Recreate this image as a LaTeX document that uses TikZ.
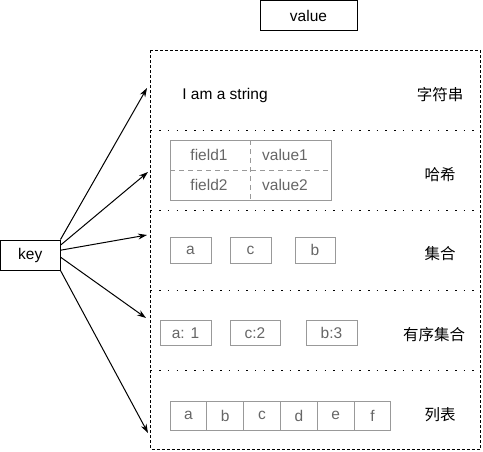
\documentclass[tikz,border=0pt]{standalone}
\usepackage{fontspec}
\setmainfont{Liberation Sans}
\newfontfamily\cjk{Noto Sans CJK SC}
\usetikzlibrary{arrows.meta}
\definecolor{cellgray}{HTML}{999999}
\definecolor{textgray}{HTML}{666666}
\begin{document}
\begin{tikzpicture}[x=1pt,y=-1pt,line width=1pt,
	every node/.style={font=\fontsize{15.5}{18}\selectfont,inner sep=0pt},
	plainbox/.style={draw,minimum width=#1,minimum height=30},
	cell/.style={draw=cellgray,text=textgray,minimum width=#1,minimum height=26},
	tag/.style={font=\cjk\fontsize{15.5}{18}\selectfont},
	sep/.style={dash pattern=on 1.5pt off 7.2pt},
	link/.style={-{Stealth[length=9pt,width=6pt]}}]
			\useasboundingbox (0,0) rectangle (483,451);
			% value header and key
			\node[plainbox=97] (value) at (308.5,15.5) {value};
			\node[plainbox=59.5] (key) at (30.25,255) {key};
			% store with its five rows
			\draw[dash pattern=on 3pt off 2pt] (150.5,50) rectangle (480,449);
			\foreach \y in {130,210,290,370}
				\draw[sep] (150.5,\y) -- (480,\y);
			\node[tag] (tstr) at (440,95) {字符串};
			\node[tag] (thash) at (440,175) {哈希};
			\node[tag] (tset) at (440,254) {集合};
			\node[tag] (tzset) at (434,335) {有序集合};
			\node[tag] (tlist) at (440,415) {列表};
			% string
			\node (str) at (225,95) {I am a string};
			% hash
			\draw[cellgray] (170,140) rectangle (331,200);
			\draw[cellgray,dash pattern=on 5pt off 4pt] (250,140) -- (250,200);
			\draw[cellgray,dash pattern=on 5pt off 4pt] (170,170) -- (331,170);
			\node[text=textgray] (f1) at (209,155) {field1};
			\node[text=textgray] (v1) at (285,155) {value1};
			\node[text=textgray] (f2) at (209,185) {field2};
			\node[text=textgray] (v2) at (285,185) {value2};
			% set
			\node[cell=41] (sa) at (190.5,250) {a};
			\node[cell=41] (sc) at (250.5,250) {c};
			\node[cell=40] (sb) at (315,250) {b};
			% sorted set
			\node[cell=51,minimum height=25] (za) at (185.5,333) {a: 1};
			\node[cell=50,minimum height=25] (zc) at (255,333) {c:2};
			\node[cell=51,minimum height=25] (zb) at (331.5,333) {b:3};
			% list
			\foreach \t [count=\i] in {a,b,c,d,e,f}
				\node[cell=36.83,minimum height=29] (l\i) at ({170+36.83*(\i-0.5)},415.5) {\t};
			% arrows from key
			\coordinate (p1) at (147,88);
			\coordinate (p2) at (148,172);
			\coordinate (p3) at (147,235);
			\coordinate (p4) at (146,318);
			\coordinate (p5) at (148,433);
			\draw[link] (key.north east) -- (p1);
			\draw[link] (key.18) -- (p2);
			\draw[link] (key.9) -- (p3);
			\draw[link] (key.-4) -- (p4);
			\draw[link] (key.south east) -- (p5);
\end{tikzpicture}
\end{document}
